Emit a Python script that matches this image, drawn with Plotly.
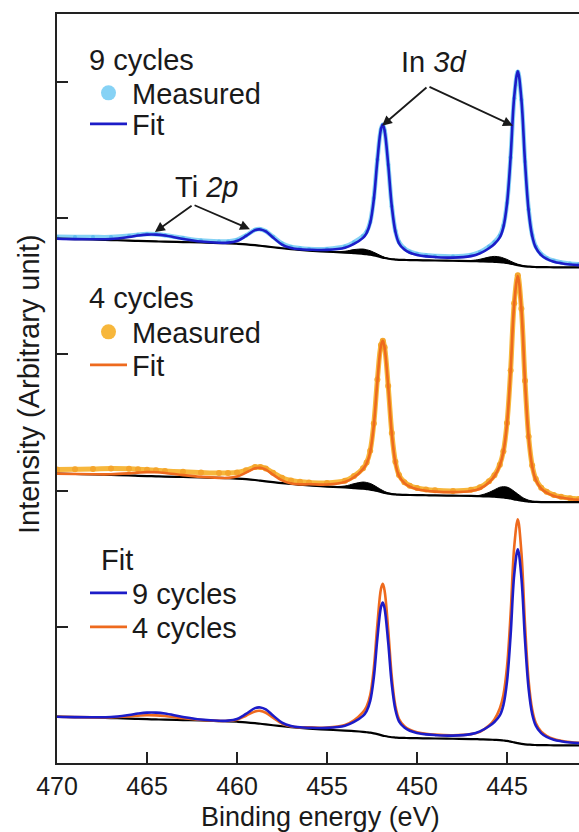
import plotly.graph_objects as go

# ---------------- data ----------------
energy = [470, 469, 468, 467, 466, 465.5, 465, 464.5, 464, 463, 462, 461, 460.5, 460,
          459.5, 459, 458.7, 458.4, 458, 457.5, 457, 456.5, 456, 455, 454, 453.5, 453,
          452.8, 452.6, 452.4, 452.2, 452.0, 451.9, 451.8, 451.6, 451.4, 451.2, 451.0,
          450.7, 450.4, 450, 449.5, 449, 448, 447, 446.5, 446, 445.7, 445.4, 445.2,
          445.0, 444.8, 444.6, 444.4, 444.2, 444.0, 443.8, 443.6, 443.4, 443.1, 442.8,
          442.4, 442.0, 441.5, 441.0]

# Shirley-type background shape (relative, common to all three spectra)
background = [0.210, 0.207, 0.204, 0.200, 0.196, 0.194, 0.192, 0.190, 0.188, 0.185, 0.182,
              0.178, 0.176, 0.173, 0.169, 0.163, 0.158, 0.153, 0.147, 0.140, 0.134, 0.128,
              0.123, 0.115, 0.108, 0.104, 0.099, 0.096, 0.093, 0.088, 0.082, 0.075, 0.071,
              0.068, 0.063, 0.059, 0.057, 0.055, 0.054, 0.053, 0.052, 0.051, 0.050, 0.048,
              0.046, 0.044, 0.042, 0.040, 0.038, 0.035, 0.032, 0.027, 0.021, 0.016, 0.011,
              0.007, 0.005, 0.003, 0.002, 0.001, 0.001, 0.0, 0.0, 0.0, 0.0]

# 9 cycles: measured and fit (above background)
measured_9 = [0.015, 0.016, 0.018, 0.022, 0.035, 0.045, 0.052, 0.053, 0.048, 0.030, 0.015,
              0.012, 0.014, 0.028, 0.065, 0.112, 0.122, 0.112, 0.078, 0.035, 0.016, 0.012,
              0.012, 0.020, 0.045, 0.080, 0.130, 0.165, 0.240, 0.420, 0.710, 0.940, 0.975,
              0.935, 0.690, 0.390, 0.210, 0.130, 0.085, 0.062, 0.047, 0.037, 0.033, 0.031,
              0.045, 0.068, 0.110, 0.145, 0.195, 0.270, 0.440, 0.780, 1.220, 1.420, 1.220,
              0.770, 0.420, 0.235, 0.150, 0.095, 0.068, 0.048, 0.036, 0.027, 0.022]
fit_9 = [0.000, 0.000, 0.002, 0.008, 0.027, 0.039, 0.048, 0.050, 0.045, 0.023, 0.007,
         0.002, 0.005, 0.020, 0.061, 0.110, 0.120, 0.110, 0.072, 0.027, 0.008, 0.004,
         0.006, 0.013, 0.036, 0.068, 0.117, 0.155, 0.233, 0.410, 0.705, 0.941, 0.978,
         0.937, 0.692, 0.389, 0.204, 0.121, 0.076, 0.054, 0.039, 0.029, 0.025, 0.023,
         0.036, 0.058, 0.098, 0.131, 0.181, 0.260, 0.436, 0.780, 1.230, 1.424, 1.221,
         0.767, 0.412, 0.227, 0.142, 0.088, 0.061, 0.041, 0.030, 0.021, 0.016]
satellite_9 = [0, 0, 0, 0, 0, 0, 0, 0, 0, 0, 0, 0, 0, 0, 0, 0, 0, 0, 0, 0, 0, 0, 0,
               0.0, 0.010, 0.026, 0.035, 0.033, 0.029, 0.022, 0.016, 0.010, 0.008, 0.006,
               0.003, 0.0015, 0.0005, 0.0, 0, 0, 0, 0, 0, 0,
               0.004, 0.015, 0.033, 0.040, 0.038, 0.033, 0.026, 0.018, 0.012, 0.007, 0.004,
               0.002, 0.001, 0, 0, 0, 0, 0, 0, 0, 0]

# 4 cycles: measured and fit (above background)
measured_4 = [0.030, 0.035, 0.040, 0.048, 0.050, 0.048, 0.047, 0.045, 0.042, 0.038, 0.036,
              0.036, 0.038, 0.045, 0.065, 0.095, 0.100, 0.095, 0.070, 0.040, 0.025, 0.022,
              0.022, 0.026, 0.050, 0.088, 0.150, 0.195, 0.285, 0.490, 0.820, 1.080, 1.115,
              1.070, 0.790, 0.450, 0.240, 0.145, 0.093, 0.068, 0.052, 0.042, 0.037, 0.035,
              0.045, 0.065, 0.112, 0.158, 0.238, 0.340, 0.550, 0.940, 1.440, 1.650, 1.410,
              0.885, 0.478, 0.266, 0.168, 0.106, 0.076, 0.053, 0.040, 0.030, 0.024]
fit_4 = [0.000, 0.000, 0.001, 0.005, 0.016, 0.023, 0.029, 0.030, 0.027, 0.014, 0.004,
         0.001, 0.003, 0.015, 0.048, 0.086, 0.095, 0.086, 0.056, 0.020, 0.004, 0.003,
         0.009, 0.015, 0.041, 0.079, 0.144, 0.188, 0.276, 0.477, 0.808, 1.074, 1.114,
         1.067, 0.787, 0.443, 0.232, 0.138, 0.086, 0.061, 0.044, 0.033, 0.028, 0.026,
         0.036, 0.055, 0.103, 0.150, 0.232, 0.335, 0.543, 0.936, 1.435, 1.644, 1.406,
         0.882, 0.472, 0.259, 0.161, 0.099, 0.069, 0.046, 0.034, 0.024, 0.018]
satellite_4 = [0, 0, 0, 0, 0, 0, 0, 0, 0, 0, 0, 0, 0, 0, 0, 0, 0, 0, 0, 0, 0, 0, 0,
               0.0, 0.011, 0.032, 0.049, 0.049, 0.045, 0.037, 0.027, 0.018, 0.015, 0.011,
               0.006, 0.003, 0.001, 0.0, 0, 0, 0, 0, 0, 0,
               0.001, 0.007, 0.030, 0.051, 0.072, 0.079, 0.079, 0.072, 0.059, 0.044, 0.030,
               0.018, 0.010, 0.005, 0.002, 0, 0, 0, 0, 0, 0]

# vertical offsets of the stacked spectra
offset_top = 3.64
offset_mid = 1.915
offset_bot = 0.13

x_ticks = [470, 465, 460, 455, 450, 445]
y_ticks = [1, 2, 3, 4, 5]

for arr in (background, measured_9, fit_9, satellite_9, measured_4, fit_4, satellite_4):
    assert len(arr) == len(energy), len(arr)

# ---------------- styles ----------------
FONT = "Liberation Sans, Arial, Helvetica, sans-serif"
TXT = "#1a1a1a"
BLUE = "#1c1cc8"
LIGHTBLUE = "#86d2f5"
LIGHTBLUE_DOT = "#62bdee"
ORANGE = "#ee6a1e"
GOLD = "#f7b73c"
GOLD_DOT = "#f4a52c"


def stack(offset, *parts):
    return [offset + sum(p[i] for p in parts) for i in range(len(energy))]


fig = go.Figure()


def add_panel(offset, measured, fit, sat, band_col, dot_col, fit_col, dot_size, band_w,
              leg_m, leg_f):
    fig.add_trace(go.Scatter(x=energy, y=stack(offset, background, measured), mode="lines",
                             line=dict(color=band_col, width=band_w, shape="spline"),
                             showlegend=False, hoverinfo="skip"))
    fig.add_trace(go.Scatter(x=energy, y=stack(offset, background, measured), mode="markers",
                             marker=dict(color=dot_col, size=dot_size), showlegend=False))
    fig.add_trace(go.Scatter(x=energy, y=stack(offset, background), mode="lines",
                             line=dict(color="black", width=2.2, shape="spline"),
                             showlegend=False))
    fig.add_trace(go.Scatter(x=energy, y=stack(offset, background, sat), mode="lines",
                             line=dict(color="black", width=1, shape="spline"),
                             fill="tonexty", fillcolor="black", showlegend=False))
    fig.add_trace(go.Scatter(x=energy, y=stack(offset, background, fit), mode="lines",
                             line=dict(color=fit_col, width=2.6, shape="spline"),
                             name="Fit", legend=leg_f, showlegend=True))
    # legend entry for the measured points
    fig.add_trace(go.Scatter(x=[None], y=[None], mode="markers",
                             marker=dict(color=band_col, size=15),
                             name="Measured", legend=leg_m, showlegend=True))


add_panel(offset_top, measured_9, fit_9, satellite_9, LIGHTBLUE, LIGHTBLUE_DOT, BLUE, 4, 4.5,
          "legend", "legend2")
add_panel(offset_mid, measured_4, fit_4, satellite_4, GOLD, GOLD_DOT, ORANGE, 6, 5,
          "legend3", "legend4")

# bottom: fit comparison
fig.add_trace(go.Scatter(x=energy, y=stack(offset_bot, background), mode="lines",
                         line=dict(color="black", width=2.2, shape="spline"), showlegend=False))
fig.add_trace(go.Scatter(x=energy, y=stack(offset_bot, background, fit_4), mode="lines",
                         line=dict(color=ORANGE, width=2.6, shape="spline"),
                         name="4 cycles", legend="legend6"))
fig.add_trace(go.Scatter(x=energy, y=stack(offset_bot, background, fit_9), mode="lines",
                         line=dict(color=BLUE, width=2.6, shape="spline"),
                         name="9 cycles", legend="legend5"))

# ---------------- layout ----------------
L, T, W, H = 57, 14, 579, 832
B = 69
pw, ph = W - L, H - T - B


def px(xp):
    return (xp - L) / pw


def py(yp):
    return (H - B - yp) / ph


leg_font = dict(family=FONT, size=29, color=TXT)


def leg(xp, yp):
    return dict(x=px(xp), y=py(yp), xanchor="left", yanchor="middle", font=leg_font,
                bgcolor="rgba(0,0,0,0)", borderwidth=0, tracegroupgap=0, itemwidth=37)


fig.update_layout(
    width=W, height=H,
    margin=dict(l=L, r=0, t=T, b=B, autoexpand=False),
    paper_bgcolor="white", plot_bgcolor="white",
    font=dict(family=FONT, size=26, color=TXT),
    legend=leg(85, 93),
    legend2=leg(85, 124),
    legend3=leg(85, 332),
    legend4=leg(85, 365),
    legend5=leg(85, 593),
    legend6=leg(85, 627),
    xaxis=dict(range=[470, 441], tickvals=x_ticks, ticks="inside", ticklen=11, tickwidth=2,
               tickcolor="#222", showline=True, linewidth=2, linecolor="#222", mirror=True,
               showgrid=False, zeroline=False,
               tickfont=dict(family=FONT, size=25, color=TXT)),
    yaxis=dict(range=[0, 5.5], tickvals=y_ticks, ticks="inside", ticklen=11, tickwidth=2,
               tickcolor="#222", showticklabels=False, showline=True, linewidth=2,
               linecolor="#222", showgrid=False, zeroline=False),
)

# ---------------- annotations ----------------
ann_font = dict(family=FONT, size=29, color=TXT)
# axis titles
fig.add_annotation(x=px(320), y=py(833), xref="paper", yref="paper", xanchor="center",
                   yanchor="bottom", borderpad=0, text="Binding energy (eV)",
                   showarrow=False, font=dict(family=FONT, size=27, color=TXT))
fig.add_annotation(x=px(29), y=py(384), xref="paper", yref="paper", textangle=-90,
                   text="Intensity (Arbitrary unit)", showarrow=False, xanchor="center",
                   yanchor="middle", font=dict(family=FONT, size=29, color=TXT))

# legend group titles
for txt, xp, yp in [("9 cycles", 87, 60), ("4 cycles", 87, 298), ("Fit", 99, 560)]:
    fig.add_annotation(x=px(xp), y=py(yp), xref="paper", yref="paper", xanchor="left",
                       yanchor="middle", text=txt, showarrow=False, font=ann_font)

fig.add_annotation(x=461.67, y=4.23, text="Ti <i>2p</i>", showarrow=False, font=ann_font)
fig.add_annotation(x=449.11, y=5.15, text="In <i>3d</i>", showarrow=False, font=ann_font)
for tip, tail in [((464.56, 3.90), (462.44, 4.10)), ((459.28, 3.92), (462.44, 4.10)),
                  ((451.94, 4.68), (449.39, 4.97)), ((444.67, 4.68), (449.39, 4.97))]:
    fig.add_annotation(x=tip[0], y=tip[1], ax=tail[0], ay=tail[1], xref="x", yref="y",
                       axref="x", ayref="y", text="", showarrow=True, arrowhead=2,
                       arrowsize=1.1, arrowwidth=1.8, arrowcolor=TXT)

fig.write_html("out.html")
